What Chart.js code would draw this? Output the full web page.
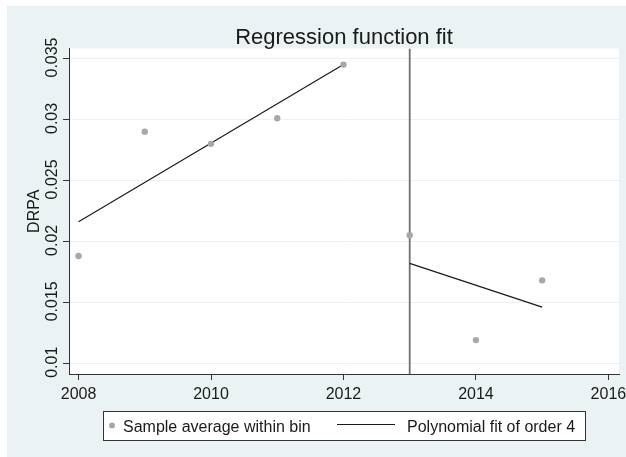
<!DOCTYPE html>
<html>
<head>
<meta charset="utf-8">
<title>Regression function fit</title>
<script src="https://cdn.jsdelivr.net/npm/chart.js@4.4.1/dist/chart.umd.min.js"></script>
<style>
  html, body { margin: 0; padding: 0; background: #ffffff; }
  #chart { display: block; }
</style>
</head>
<body>
<canvas id="chart" width="626" height="457"></canvas>
<script>
// Bin averages (one per year)
const years = [2008, 2009, 2010, 2011, 2012, 2013, 2014, 2015];
const binAvg = [0.0188, 0.0290, 0.0280, 0.0301, 0.0345, 0.0205, 0.0119, 0.0168];

// Polynomial fit, left and right of the cutoff
const fitLeftX = [2008, 2012];
const fitLeftY = [0.0216, 0.0345];
const fitRightX = [2013, 2015];
const fitRightY = [0.0182, 0.0146];

const cutoff = 2013;

// Axis ticks
const xTicks = [2008, 2010, 2012, 2014, 2016];
const yTicks = [0.01, 0.015, 0.02, 0.025, 0.03, 0.035];
const yTickLabels = ['0.01', '0.015', '0.02', '0.025', '0.03', '0.035'];

const xMin = 2007.856, xMax = 2016.16;
const yMin = 0.00912, yMax = 0.03582;

const FONT = 'Liberation Sans, Arial, Helvetica, sans-serif';
const BG = '#eaf2f3';
const AXIS = '#333333';

function toXY(xs, ys) {
    return xs.map((x, i) => ({ x: x, y: ys[i] }));
}

// background, title, y labels and legend drawn by hand
const decor = {
    id: 'decor',
    beforeDraw(chart) {
        const c = chart.ctx;
        const a = chart.chartArea;
        c.save();
        c.fillStyle = '#ffffff';
        c.fillRect(0, 0, chart.width, chart.height);
        c.fillStyle = BG;
        c.fillRect(7, 6, chart.width - 7, chart.height - 6);
        c.fillStyle = '#ffffff';
        c.fillRect(a.left, a.top, a.right - a.left, a.bottom - a.top);
        c.restore();
    },
    afterDraw(chart) {
        const c = chart.ctx;
        const a = chart.chartArea;
        const y = chart.scales.y;
        c.save();

        // title
        c.fillStyle = '#1a1a1a';
        c.font = '22px ' + FONT;
        c.textAlign = 'center';
        c.textBaseline = 'alphabetic';
        c.fillText('Regression function fit', (a.left + a.right) / 2, 43.5);

        // y tick labels, rotated
        c.font = '16px ' + FONT;
        yTicks.forEach((v, i) => {
            const py = y.getPixelForValue(v);
            c.save();
            c.translate(57, py - 1);
            c.rotate(-Math.PI / 2);
            c.fillText(yTickLabels[i], 0, 0);
            c.restore();
        });

        // y axis title
        c.save();
        c.translate(39, (a.top + a.bottom) / 2);
        c.rotate(-Math.PI / 2);
        c.fillText('DRPA', 0, 0);
        c.restore();

        // legend
        c.fillStyle = '#ffffff';
        c.fillRect(103.5, 411.5, 482, 29);
        c.strokeStyle = AXIS;
        c.lineWidth = 1;
        c.strokeRect(103.5, 411.5, 482, 29);

        c.fillStyle = '#a8a8a8';
        c.beginPath();
        c.arc(112, 425.5, 3, 0, Math.PI * 2);
        c.fill();

        c.strokeStyle = '#1a1a1a';
        c.lineWidth = 1.2;
        c.beginPath();
        c.moveTo(337, 424.5);
        c.lineTo(395, 424.5);
        c.stroke();

        c.fillStyle = '#1a1a1a';
        c.textAlign = 'left';
        c.fillText(chart.data.datasets[0].label, 123, 432);
        c.fillText(chart.data.datasets[1].label, 407, 432);

        c.restore();
    }
};

const ctx = document.getElementById('chart').getContext('2d');
new Chart(ctx, {
    type: 'scatter',
    data: {
        datasets: [
            {
                label: 'Sample average within bin',
                data: toXY(years, binAvg),
                backgroundColor: '#a8a8a8',
                borderColor: '#a8a8a8',
                pointRadius: 3.2,
                pointBorderWidth: 0
            },
            {
                label: 'Polynomial fit of order 4',
                data: toXY(fitLeftX, fitLeftY),
                showLine: true,
                borderColor: '#1a1a1a',
                borderWidth: 1.2,
                pointRadius: 0
            },
            {
                label: 'fit right',
                data: toXY(fitRightX, fitRightY),
                showLine: true,
                borderColor: '#1a1a1a',
                borderWidth: 1.2,
                pointRadius: 0
            },
            {
                label: 'cutoff',
                data: toXY([cutoff, cutoff], [yMin, yMax]),
                showLine: true,
                borderColor: '#707070',
                borderWidth: 1.8,
                pointRadius: 0
            }
        ]
    },
    options: {
        responsive: false,
        animation: false,
        events: [],
        layout: { padding: { left: 7, top: 48.5, right: 7, bottom: 43 } },
        plugins: {
            legend: { display: false },
            title: { display: false },
            tooltip: { enabled: false }
        },
        scales: {
            x: {
                type: 'linear',
                min: xMin,
                max: xMax,
                afterBuildTicks: s => { s.ticks = xTicks.map(v => ({ value: v })); },
                afterFit: s => { s.height = 40; s.paddingLeft = 0; s.paddingRight = 0; },
                border: { color: AXIS, width: 1 },
                grid: { drawOnChartArea: false, drawTicks: true, tickLength: 6, color: AXIS },
                ticks: {
                    color: '#1a1a1a',
                    font: { family: FONT, size: 16 },
                    padding: 5,
                    maxRotation: 0,
                    callback: v => String(v)
                }
            },
            y: {
                type: 'linear',
                min: yMin,
                max: yMax,
                afterBuildTicks: s => { s.ticks = yTicks.map(v => ({ value: v })); },
                afterFit: s => { s.width = 62; s.paddingTop = 0; s.paddingBottom = 0; },
                border: { color: AXIS, width: 1 },
                grid: { color: BG, lineWidth: 1, drawTicks: true, tickLength: 6, tickColor: AXIS },
                ticks: { display: false }
            }
        }
    },
    plugins: [decor]
});
</script>
</body>
</html>
